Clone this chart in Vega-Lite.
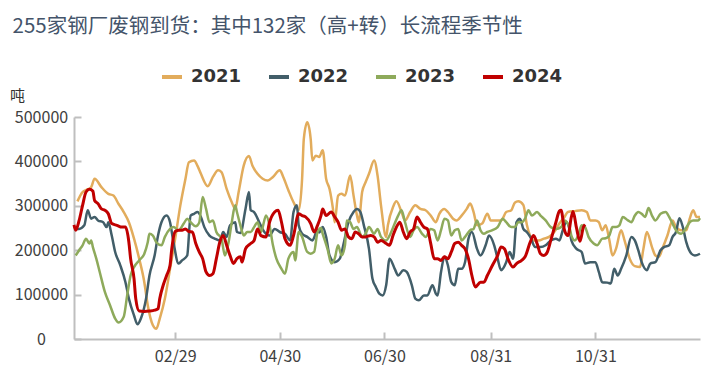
{
  "$schema": "https://vega.github.io/schema/vega-lite/v6.json",
  "width": 626,
  "height": 222,
  "autosize": {"type": "none"},
  "padding": {"left": 74, "top": 117, "right": 8, "bottom": 26},
  "background": "white",
  "config": {"view": {"stroke": null}, "font": "Noto Sans CJK SC"},
  "title": {"text": "255家钢厂废钢到货：其中132家（高+转）长流程季节性", "anchor": "start", "frame": "bounds", "fontSize": 20.5, "fontWeight": "normal", "color": "#44546A", "font": "Noto Sans CJK SC", "offset": 28, "dx": 3},
  "data": {"values": [
{"d":"2024-01-03","s":"2021","v":310000},{"d":"2024-01-06","s":"2021","v":331000},{"d":"2024-01-09","s":"2021","v":337000},{"d":"2024-01-11","s":"2021","v":342000},{"d":"2024-01-13","s":"2021","v":361000},{"d":"2024-01-17","s":"2021","v":342000},{"d":"2024-01-21","s":"2021","v":327000},{"d":"2024-01-24","s":"2021","v":323000},{"d":"2024-01-27","s":"2021","v":304000},{"d":"2024-01-30","s":"2021","v":286000},{"d":"2024-02-02","s":"2021","v":263000},{"d":"2024-02-05","s":"2021","v":226000},{"d":"2024-02-08","s":"2021","v":181000},{"d":"2024-02-11","s":"2021","v":128000},{"d":"2024-02-13","s":"2021","v":76000},{"d":"2024-02-16","s":"2021","v":31000},{"d":"2024-02-18","s":"2021","v":23000},{"d":"2024-02-20","s":"2021","v":46000},{"d":"2024-02-23","s":"2021","v":91000},{"d":"2024-02-26","s":"2021","v":158000},{"d":"2024-02-29","s":"2021","v":226000},{"d":"2024-03-03","s":"2021","v":301000},{"d":"2024-03-06","s":"2021","v":361000},{"d":"2024-03-08","s":"2021","v":398000},{"d":"2024-03-11","s":"2021","v":402000},{"d":"2024-03-13","s":"2021","v":390000},{"d":"2024-03-15","s":"2021","v":372000},{"d":"2024-03-19","s":"2021","v":344000},{"d":"2024-03-22","s":"2021","v":365000},{"d":"2024-03-25","s":"2021","v":380000},{"d":"2024-03-27","s":"2021","v":376000},{"d":"2024-03-30","s":"2021","v":338000},{"d":"2024-04-02","s":"2021","v":308000},{"d":"2024-04-04","s":"2021","v":293000},{"d":"2024-04-06","s":"2021","v":331000},{"d":"2024-04-09","s":"2021","v":391000},{"d":"2024-04-12","s":"2021","v":412000},{"d":"2024-04-14","s":"2021","v":391000},{"d":"2024-04-17","s":"2021","v":372000},{"d":"2024-04-20","s":"2021","v":361000},{"d":"2024-04-23","s":"2021","v":357000},{"d":"2024-04-26","s":"2021","v":365000},{"d":"2024-04-30","s":"2021","v":380000},{"d":"2024-05-02","s":"2021","v":365000},{"d":"2024-05-05","s":"2021","v":335000},{"d":"2024-05-08","s":"2021","v":308000},{"d":"2024-05-11","s":"2021","v":290000},{"d":"2024-05-13","s":"2021","v":361000},{"d":"2024-05-14","s":"2021","v":451000},{"d":"2024-05-16","s":"2021","v":488000},{"d":"2024-05-18","s":"2021","v":451000},{"d":"2024-05-19","s":"2021","v":402000},{"d":"2024-05-21","s":"2021","v":413000},{"d":"2024-05-23","s":"2021","v":410000},{"d":"2024-05-25","s":"2021","v":425000},{"d":"2024-05-27","s":"2021","v":361000},{"d":"2024-05-29","s":"2021","v":338000},{"d":"2024-05-31","s":"2021","v":293000},{"d":"2024-06-01","s":"2021","v":263000},{"d":"2024-06-03","s":"2021","v":323000},{"d":"2024-06-05","s":"2021","v":327000},{"d":"2024-06-07","s":"2021","v":323000},{"d":"2024-06-10","s":"2021","v":368000},{"d":"2024-06-12","s":"2021","v":323000},{"d":"2024-06-14","s":"2021","v":278000},{"d":"2024-06-15","s":"2021","v":263000},{"d":"2024-06-17","s":"2021","v":331000},{"d":"2024-06-19","s":"2021","v":353000},{"d":"2024-06-21","s":"2021","v":372000},{"d":"2024-06-24","s":"2021","v":402000},{"d":"2024-06-26","s":"2021","v":368000},{"d":"2024-06-28","s":"2021","v":301000},{"d":"2024-07-01","s":"2021","v":230000},{"d":"2024-07-02","s":"2021","v":256000},{"d":"2024-07-05","s":"2021","v":297000},{"d":"2024-07-07","s":"2021","v":310000},{"d":"2024-07-10","s":"2021","v":286000},{"d":"2024-07-12","s":"2021","v":267000},{"d":"2024-07-15","s":"2021","v":286000},{"d":"2024-07-18","s":"2021","v":301000},{"d":"2024-07-21","s":"2021","v":293000},{"d":"2024-07-24","s":"2021","v":290000},{"d":"2024-07-27","s":"2021","v":278000},{"d":"2024-07-30","s":"2021","v":263000},{"d":"2024-08-01","s":"2021","v":282000},{"d":"2024-08-04","s":"2021","v":293000},{"d":"2024-08-06","s":"2021","v":286000},{"d":"2024-08-09","s":"2021","v":271000},{"d":"2024-08-11","s":"2021","v":267000},{"d":"2024-08-14","s":"2021","v":278000},{"d":"2024-08-17","s":"2021","v":293000},{"d":"2024-08-19","s":"2021","v":305000},{"d":"2024-08-21","s":"2021","v":286000},{"d":"2024-08-23","s":"2021","v":256000},{"d":"2024-08-26","s":"2021","v":260000},{"d":"2024-08-29","s":"2021","v":282000},{"d":"2024-08-31","s":"2021","v":267000},{"d":"2024-09-03","s":"2021","v":267000},{"d":"2024-09-06","s":"2021","v":267000},{"d":"2024-09-09","s":"2021","v":286000},{"d":"2024-09-12","s":"2021","v":290000},{"d":"2024-09-14","s":"2021","v":307000},{"d":"2024-09-16","s":"2021","v":310000},{"d":"2024-09-19","s":"2021","v":302000},{"d":"2024-09-21","s":"2021","v":258000},{"d":"2024-09-23","s":"2021","v":232000},{"d":"2024-09-25","s":"2021","v":222000},{"d":"2024-09-28","s":"2021","v":222000},{"d":"2024-10-01","s":"2021","v":226000},{"d":"2024-10-04","s":"2021","v":230000},{"d":"2024-10-07","s":"2021","v":241000},{"d":"2024-10-10","s":"2021","v":260000},{"d":"2024-10-13","s":"2021","v":275000},{"d":"2024-10-15","s":"2021","v":286000},{"d":"2024-10-19","s":"2021","v":288000},{"d":"2024-10-23","s":"2021","v":290000},{"d":"2024-10-26","s":"2021","v":286000},{"d":"2024-10-28","s":"2021","v":267000},{"d":"2024-10-31","s":"2021","v":267000},{"d":"2024-11-02","s":"2021","v":263000},{"d":"2024-11-04","s":"2021","v":245000},{"d":"2024-11-06","s":"2021","v":256000},{"d":"2024-11-08","s":"2021","v":226000},{"d":"2024-11-10","s":"2021","v":188000},{"d":"2024-11-12","s":"2021","v":203000},{"d":"2024-11-15","s":"2021","v":245000},{"d":"2024-11-17","s":"2021","v":222000},{"d":"2024-11-20","s":"2021","v":181000},{"d":"2024-11-23","s":"2021","v":164000},{"d":"2024-11-26","s":"2021","v":162000},{"d":"2024-11-28","s":"2021","v":203000},{"d":"2024-11-30","s":"2021","v":241000},{"d":"2024-12-03","s":"2021","v":207000},{"d":"2024-12-05","s":"2021","v":188000},{"d":"2024-12-07","s":"2021","v":185000},{"d":"2024-12-09","s":"2021","v":203000},{"d":"2024-12-12","s":"2021","v":233000},{"d":"2024-12-15","s":"2021","v":267000},{"d":"2024-12-17","s":"2021","v":252000},{"d":"2024-12-20","s":"2021","v":245000},{"d":"2024-12-23","s":"2021","v":245000},{"d":"2024-12-25","s":"2021","v":271000},{"d":"2024-12-27","s":"2021","v":290000},{"d":"2024-12-29","s":"2021","v":275000},{"d":"2024-12-31","s":"2021","v":275000},
{"d":"2024-01-01","s":"2022","v":248000},{"d":"2024-01-04","s":"2022","v":248000},{"d":"2024-01-07","s":"2022","v":256000},{"d":"2024-01-09","s":"2022","v":290000},{"d":"2024-01-11","s":"2022","v":271000},{"d":"2024-01-13","s":"2022","v":275000},{"d":"2024-01-15","s":"2022","v":267000},{"d":"2024-01-18","s":"2022","v":263000},{"d":"2024-01-20","s":"2022","v":252000},{"d":"2024-01-21","s":"2022","v":263000},{"d":"2024-01-23","s":"2022","v":233000},{"d":"2024-01-25","s":"2022","v":196000},{"d":"2024-01-28","s":"2022","v":166000},{"d":"2024-01-31","s":"2022","v":128000},{"d":"2024-02-02","s":"2022","v":91000},{"d":"2024-02-05","s":"2022","v":53000},{"d":"2024-02-07","s":"2022","v":33000},{"d":"2024-02-09","s":"2022","v":46000},{"d":"2024-02-12","s":"2022","v":91000},{"d":"2024-02-14","s":"2022","v":143000},{"d":"2024-02-17","s":"2022","v":188000},{"d":"2024-02-19","s":"2022","v":233000},{"d":"2024-02-21","s":"2022","v":263000},{"d":"2024-02-24","s":"2022","v":278000},{"d":"2024-02-26","s":"2022","v":263000},{"d":"2024-02-28","s":"2022","v":218000},{"d":"2024-03-02","s":"2022","v":170000},{"d":"2024-03-04","s":"2022","v":177000},{"d":"2024-03-07","s":"2022","v":188000},{"d":"2024-03-09","s":"2022","v":278000},{"d":"2024-03-11","s":"2022","v":282000},{"d":"2024-03-13","s":"2022","v":286000},{"d":"2024-03-15","s":"2022","v":275000},{"d":"2024-03-17","s":"2022","v":252000},{"d":"2024-03-20","s":"2022","v":233000},{"d":"2024-03-23","s":"2022","v":226000},{"d":"2024-03-26","s":"2022","v":222000},{"d":"2024-03-28","s":"2022","v":241000},{"d":"2024-03-30","s":"2022","v":230000},{"d":"2024-04-01","s":"2022","v":256000},{"d":"2024-04-04","s":"2022","v":263000},{"d":"2024-04-05","s":"2022","v":241000},{"d":"2024-04-07","s":"2022","v":239000},{"d":"2024-04-10","s":"2022","v":293000},{"d":"2024-04-12","s":"2022","v":331000},{"d":"2024-04-13","s":"2022","v":290000},{"d":"2024-04-15","s":"2022","v":286000},{"d":"2024-04-18","s":"2022","v":263000},{"d":"2024-04-21","s":"2022","v":241000},{"d":"2024-04-24","s":"2022","v":233000},{"d":"2024-04-27","s":"2022","v":248000},{"d":"2024-04-30","s":"2022","v":241000},{"d":"2024-05-03","s":"2022","v":237000},{"d":"2024-05-06","s":"2022","v":222000},{"d":"2024-05-08","s":"2022","v":286000},{"d":"2024-05-10","s":"2022","v":301000},{"d":"2024-05-11","s":"2022","v":256000},{"d":"2024-05-13","s":"2022","v":237000},{"d":"2024-05-16","s":"2022","v":230000},{"d":"2024-05-19","s":"2022","v":222000},{"d":"2024-05-22","s":"2022","v":245000},{"d":"2024-05-23","s":"2022","v":240000},{"d":"2024-05-25","s":"2022","v":252000},{"d":"2024-05-27","s":"2022","v":230000},{"d":"2024-05-29","s":"2022","v":188000},{"d":"2024-06-01","s":"2022","v":173000},{"d":"2024-06-04","s":"2022","v":181000},{"d":"2024-06-06","s":"2022","v":211000},{"d":"2024-06-09","s":"2022","v":263000},{"d":"2024-06-12","s":"2022","v":286000},{"d":"2024-06-14","s":"2022","v":293000},{"d":"2024-06-16","s":"2022","v":286000},{"d":"2024-06-18","s":"2022","v":256000},{"d":"2024-06-21","s":"2022","v":203000},{"d":"2024-06-23","s":"2022","v":136000},{"d":"2024-06-25","s":"2022","v":117000},{"d":"2024-06-27","s":"2022","v":102000},{"d":"2024-06-29","s":"2022","v":98000},{"d":"2024-07-01","s":"2022","v":121000},{"d":"2024-07-03","s":"2022","v":181000},{"d":"2024-07-06","s":"2022","v":158000},{"d":"2024-07-08","s":"2022","v":143000},{"d":"2024-07-11","s":"2022","v":155000},{"d":"2024-07-13","s":"2022","v":151000},{"d":"2024-07-16","s":"2022","v":121000},{"d":"2024-07-18","s":"2022","v":91000},{"d":"2024-07-20","s":"2022","v":87000},{"d":"2024-07-23","s":"2022","v":98000},{"d":"2024-07-25","s":"2022","v":98000},{"d":"2024-07-28","s":"2022","v":121000},{"d":"2024-07-30","s":"2022","v":102000},{"d":"2024-07-31","s":"2022","v":98000},{"d":"2024-08-02","s":"2022","v":151000},{"d":"2024-08-04","s":"2022","v":185000},{"d":"2024-08-06","s":"2022","v":166000},{"d":"2024-08-08","s":"2022","v":128000},{"d":"2024-08-10","s":"2022","v":121000},{"d":"2024-08-12","s":"2022","v":158000},{"d":"2024-08-14","s":"2022","v":158000},{"d":"2024-08-16","s":"2022","v":173000},{"d":"2024-08-18","s":"2022","v":226000},{"d":"2024-08-20","s":"2022","v":241000},{"d":"2024-08-23","s":"2022","v":203000},{"d":"2024-08-25","s":"2022","v":188000},{"d":"2024-08-28","s":"2022","v":211000},{"d":"2024-08-30","s":"2022","v":233000},{"d":"2024-09-02","s":"2022","v":211000},{"d":"2024-09-04","s":"2022","v":181000},{"d":"2024-09-06","s":"2022","v":155000},{"d":"2024-09-09","s":"2022","v":173000},{"d":"2024-09-11","s":"2022","v":196000},{"d":"2024-09-13","s":"2022","v":181000},{"d":"2024-09-15","s":"2022","v":263000},{"d":"2024-09-17","s":"2022","v":271000},{"d":"2024-09-19","s":"2022","v":248000},{"d":"2024-09-21","s":"2022","v":241000},{"d":"2024-09-23","s":"2022","v":230000},{"d":"2024-09-26","s":"2022","v":207000},{"d":"2024-09-29","s":"2022","v":207000},{"d":"2024-10-02","s":"2022","v":211000},{"d":"2024-10-05","s":"2022","v":222000},{"d":"2024-10-08","s":"2022","v":226000},{"d":"2024-10-10","s":"2022","v":222000},{"d":"2024-10-12","s":"2022","v":245000},{"d":"2024-10-14","s":"2022","v":263000},{"d":"2024-10-16","s":"2022","v":245000},{"d":"2024-10-17","s":"2022","v":222000},{"d":"2024-10-20","s":"2022","v":203000},{"d":"2024-10-23","s":"2022","v":196000},{"d":"2024-10-25","s":"2022","v":170000},{"d":"2024-10-28","s":"2022","v":173000},{"d":"2024-10-31","s":"2022","v":173000},{"d":"2024-11-02","s":"2022","v":151000},{"d":"2024-11-04","s":"2022","v":128000},{"d":"2024-11-07","s":"2022","v":127000},{"d":"2024-11-09","s":"2022","v":125000},{"d":"2024-11-11","s":"2022","v":158000},{"d":"2024-11-13","s":"2022","v":143000},{"d":"2024-11-15","s":"2022","v":158000},{"d":"2024-11-18","s":"2022","v":188000},{"d":"2024-11-21","s":"2022","v":230000},{"d":"2024-11-23","s":"2022","v":222000},{"d":"2024-11-25","s":"2022","v":200000},{"d":"2024-11-27","s":"2022","v":173000},{"d":"2024-11-30","s":"2022","v":155000},{"d":"2024-12-02","s":"2022","v":170000},{"d":"2024-12-05","s":"2022","v":173000},{"d":"2024-12-08","s":"2022","v":200000},{"d":"2024-12-10","s":"2022","v":207000},{"d":"2024-12-13","s":"2022","v":211000},{"d":"2024-12-15","s":"2022","v":230000},{"d":"2024-12-17","s":"2022","v":241000},{"d":"2024-12-19","s":"2022","v":272000},{"d":"2024-12-21","s":"2022","v":252000},{"d":"2024-12-23","s":"2022","v":218000},{"d":"2024-12-26","s":"2022","v":192000},{"d":"2024-12-28","s":"2022","v":188000},{"d":"2024-12-31","s":"2022","v":192000},
{"d":"2024-01-02","s":"2023","v":188000},{"d":"2024-01-04","s":"2023","v":200000},{"d":"2024-01-06","s":"2023","v":211000},{"d":"2024-01-08","s":"2023","v":226000},{"d":"2024-01-10","s":"2023","v":215000},{"d":"2024-01-11","s":"2023","v":222000},{"d":"2024-01-12","s":"2023","v":207000},{"d":"2024-01-14","s":"2023","v":181000},{"d":"2024-01-16","s":"2023","v":151000},{"d":"2024-01-19","s":"2023","v":106000},{"d":"2024-01-22","s":"2023","v":76000},{"d":"2024-01-25","s":"2023","v":46000},{"d":"2024-01-27","s":"2023","v":37000},{"d":"2024-01-30","s":"2023","v":50000},{"d":"2024-02-01","s":"2023","v":98000},{"d":"2024-02-03","s":"2023","v":143000},{"d":"2024-02-05","s":"2023","v":162000},{"d":"2024-02-08","s":"2023","v":177000},{"d":"2024-02-11","s":"2023","v":192000},{"d":"2024-02-13","s":"2023","v":218000},{"d":"2024-02-14","s":"2023","v":237000},{"d":"2024-02-16","s":"2023","v":233000},{"d":"2024-02-18","s":"2023","v":218000},{"d":"2024-02-21","s":"2023","v":211000},{"d":"2024-02-23","s":"2023","v":230000},{"d":"2024-02-26","s":"2023","v":248000},{"d":"2024-02-28","s":"2023","v":252000},{"d":"2024-03-02","s":"2023","v":245000},{"d":"2024-03-05","s":"2023","v":260000},{"d":"2024-03-07","s":"2023","v":271000},{"d":"2024-03-09","s":"2023","v":263000},{"d":"2024-03-12","s":"2023","v":254000},{"d":"2024-03-14","s":"2023","v":262000},{"d":"2024-03-16","s":"2023","v":320000},{"d":"2024-03-18","s":"2023","v":293000},{"d":"2024-03-20","s":"2023","v":263000},{"d":"2024-03-22","s":"2023","v":267000},{"d":"2024-03-24","s":"2023","v":241000},{"d":"2024-03-27","s":"2023","v":226000},{"d":"2024-03-29","s":"2023","v":188000},{"d":"2024-03-31","s":"2023","v":215000},{"d":"2024-04-02","s":"2023","v":263000},{"d":"2024-04-04","s":"2023","v":301000},{"d":"2024-04-05","s":"2023","v":286000},{"d":"2024-04-07","s":"2023","v":256000},{"d":"2024-04-09","s":"2023","v":233000},{"d":"2024-04-11","s":"2023","v":241000},{"d":"2024-04-13","s":"2023","v":241000},{"d":"2024-04-15","s":"2023","v":252000},{"d":"2024-04-17","s":"2023","v":263000},{"d":"2024-04-19","s":"2023","v":241000},{"d":"2024-04-22","s":"2023","v":278000},{"d":"2024-04-24","s":"2023","v":256000},{"d":"2024-04-26","s":"2023","v":211000},{"d":"2024-04-28","s":"2023","v":181000},{"d":"2024-05-01","s":"2023","v":158000},{"d":"2024-05-03","s":"2023","v":147000},{"d":"2024-05-05","s":"2023","v":181000},{"d":"2024-05-08","s":"2023","v":196000},{"d":"2024-05-09","s":"2023","v":177000},{"d":"2024-05-11","s":"2023","v":241000},{"d":"2024-05-13","s":"2023","v":230000},{"d":"2024-05-16","s":"2023","v":196000},{"d":"2024-05-18","s":"2023","v":192000},{"d":"2024-05-20","s":"2023","v":196000},{"d":"2024-05-22","s":"2023","v":241000},{"d":"2024-05-24","s":"2023","v":250000},{"d":"2024-05-25","s":"2023","v":237000},{"d":"2024-05-28","s":"2023","v":200000},{"d":"2024-05-30","s":"2023","v":170000},{"d":"2024-06-01","s":"2023","v":181000},{"d":"2024-06-03","s":"2023","v":211000},{"d":"2024-06-05","s":"2023","v":188000},{"d":"2024-06-07","s":"2023","v":211000},{"d":"2024-06-08","s":"2023","v":267000},{"d":"2024-06-10","s":"2023","v":263000},{"d":"2024-06-12","s":"2023","v":248000},{"d":"2024-06-14","s":"2023","v":252000},{"d":"2024-06-17","s":"2023","v":230000},{"d":"2024-06-19","s":"2023","v":237000},{"d":"2024-06-21","s":"2023","v":252000},{"d":"2024-06-24","s":"2023","v":237000},{"d":"2024-06-26","s":"2023","v":248000},{"d":"2024-06-28","s":"2023","v":230000},{"d":"2024-07-01","s":"2023","v":222000},{"d":"2024-07-03","s":"2023","v":233000},{"d":"2024-07-06","s":"2023","v":260000},{"d":"2024-07-08","s":"2023","v":278000},{"d":"2024-07-10","s":"2023","v":290000},{"d":"2024-07-12","s":"2023","v":263000},{"d":"2024-07-15","s":"2023","v":230000},{"d":"2024-07-17","s":"2023","v":245000},{"d":"2024-07-19","s":"2023","v":252000},{"d":"2024-07-22","s":"2023","v":237000},{"d":"2024-07-24","s":"2023","v":230000},{"d":"2024-07-27","s":"2023","v":248000},{"d":"2024-07-29","s":"2023","v":245000},{"d":"2024-07-31","s":"2023","v":222000},{"d":"2024-08-02","s":"2023","v":245000},{"d":"2024-08-04","s":"2023","v":271000},{"d":"2024-08-06","s":"2023","v":267000},{"d":"2024-08-08","s":"2023","v":233000},{"d":"2024-08-10","s":"2023","v":245000},{"d":"2024-08-12","s":"2023","v":248000},{"d":"2024-08-14","s":"2023","v":222000},{"d":"2024-08-16","s":"2023","v":230000},{"d":"2024-08-19","s":"2023","v":245000},{"d":"2024-08-21","s":"2023","v":248000},{"d":"2024-08-23","s":"2023","v":267000},{"d":"2024-08-25","s":"2023","v":245000},{"d":"2024-08-27","s":"2023","v":237000},{"d":"2024-08-29","s":"2023","v":241000},{"d":"2024-09-01","s":"2023","v":245000},{"d":"2024-09-04","s":"2023","v":252000},{"d":"2024-09-07","s":"2023","v":271000},{"d":"2024-09-09","s":"2023","v":263000},{"d":"2024-09-12","s":"2023","v":252000},{"d":"2024-09-14","s":"2023","v":252000},{"d":"2024-09-16","s":"2023","v":263000},{"d":"2024-09-18","s":"2023","v":263000},{"d":"2024-09-20","s":"2023","v":271000},{"d":"2024-09-22","s":"2023","v":290000},{"d":"2024-09-24","s":"2023","v":278000},{"d":"2024-09-27","s":"2023","v":286000},{"d":"2024-09-29","s":"2023","v":278000},{"d":"2024-10-02","s":"2023","v":267000},{"d":"2024-10-05","s":"2023","v":252000},{"d":"2024-10-08","s":"2023","v":248000},{"d":"2024-10-11","s":"2023","v":252000},{"d":"2024-10-13","s":"2023","v":267000},{"d":"2024-10-16","s":"2023","v":250000},{"d":"2024-10-17","s":"2023","v":233000},{"d":"2024-10-19","s":"2023","v":222000},{"d":"2024-10-21","s":"2023","v":233000},{"d":"2024-10-23","s":"2023","v":256000},{"d":"2024-10-25","s":"2023","v":252000},{"d":"2024-10-27","s":"2023","v":230000},{"d":"2024-10-30","s":"2023","v":215000},{"d":"2024-11-01","s":"2023","v":211000},{"d":"2024-11-04","s":"2023","v":226000},{"d":"2024-11-06","s":"2023","v":227000},{"d":"2024-11-08","s":"2023","v":232000},{"d":"2024-11-10","s":"2023","v":252000},{"d":"2024-11-12","s":"2023","v":252000},{"d":"2024-11-14","s":"2023","v":256000},{"d":"2024-11-16","s":"2023","v":275000},{"d":"2024-11-19","s":"2023","v":267000},{"d":"2024-11-21","s":"2023","v":263000},{"d":"2024-11-23","s":"2023","v":278000},{"d":"2024-11-25","s":"2023","v":286000},{"d":"2024-11-27","s":"2023","v":282000},{"d":"2024-11-29","s":"2023","v":275000},{"d":"2024-12-01","s":"2023","v":295000},{"d":"2024-12-03","s":"2023","v":278000},{"d":"2024-12-05","s":"2023","v":267000},{"d":"2024-12-08","s":"2023","v":282000},{"d":"2024-12-11","s":"2023","v":286000},{"d":"2024-12-13","s":"2023","v":275000},{"d":"2024-12-15","s":"2023","v":260000},{"d":"2024-12-17","s":"2023","v":245000},{"d":"2024-12-20","s":"2023","v":237000},{"d":"2024-12-22","s":"2023","v":245000},{"d":"2024-12-25","s":"2023","v":263000},{"d":"2024-12-27","s":"2023","v":267000},{"d":"2024-12-30","s":"2023","v":267000},{"d":"2024-12-31","s":"2023","v":272000},
{"d":"2024-01-01","s":"2024","v":257000},{"d":"2024-01-02","s":"2024","v":245000},{"d":"2024-01-04","s":"2024","v":267000},{"d":"2024-01-06","s":"2024","v":301000},{"d":"2024-01-08","s":"2024","v":331000},{"d":"2024-01-10","s":"2024","v":337000},{"d":"2024-01-12","s":"2024","v":333000},{"d":"2024-01-13","s":"2024","v":312000},{"d":"2024-01-15","s":"2024","v":305000},{"d":"2024-01-17","s":"2024","v":293000},{"d":"2024-01-19","s":"2024","v":290000},{"d":"2024-01-21","s":"2024","v":282000},{"d":"2024-01-23","s":"2024","v":260000},{"d":"2024-01-26","s":"2024","v":256000},{"d":"2024-01-29","s":"2024","v":252000},{"d":"2024-01-31","s":"2024","v":252000},{"d":"2024-02-02","s":"2024","v":218000},{"d":"2024-02-03","s":"2024","v":181000},{"d":"2024-02-05","s":"2024","v":136000},{"d":"2024-02-06","s":"2024","v":91000},{"d":"2024-02-08","s":"2024","v":63000},{"d":"2024-02-11","s":"2024","v":62000},{"d":"2024-02-14","s":"2024","v":63000},{"d":"2024-02-17","s":"2024","v":65000},{"d":"2024-02-19","s":"2024","v":68000},{"d":"2024-02-20","s":"2024","v":91000},{"d":"2024-02-22","s":"2024","v":121000},{"d":"2024-02-24","s":"2024","v":143000},{"d":"2024-02-26","s":"2024","v":166000},{"d":"2024-02-27","s":"2024","v":203000},{"d":"2024-02-29","s":"2024","v":242000},{"d":"2024-03-02","s":"2024","v":245000},{"d":"2024-03-04","s":"2024","v":245000},{"d":"2024-03-06","s":"2024","v":248000},{"d":"2024-03-08","s":"2024","v":242000},{"d":"2024-03-10","s":"2024","v":241000},{"d":"2024-03-12","s":"2024","v":215000},{"d":"2024-03-14","s":"2024","v":196000},{"d":"2024-03-16","s":"2024","v":181000},{"d":"2024-03-18","s":"2024","v":151000},{"d":"2024-03-20","s":"2024","v":143000},{"d":"2024-03-22","s":"2024","v":147000},{"d":"2024-03-24","s":"2024","v":181000},{"d":"2024-03-26","s":"2024","v":218000},{"d":"2024-03-28","s":"2024","v":233000},{"d":"2024-03-30","s":"2024","v":211000},{"d":"2024-04-01","s":"2024","v":188000},{"d":"2024-04-03","s":"2024","v":170000},{"d":"2024-04-05","s":"2024","v":181000},{"d":"2024-04-07","s":"2024","v":185000},{"d":"2024-04-08","s":"2024","v":173000},{"d":"2024-04-10","s":"2024","v":203000},{"d":"2024-04-13","s":"2024","v":215000},{"d":"2024-04-15","s":"2024","v":222000},{"d":"2024-04-17","s":"2024","v":248000},{"d":"2024-04-19","s":"2024","v":233000},{"d":"2024-04-22","s":"2024","v":230000},{"d":"2024-04-24","s":"2024","v":263000},{"d":"2024-04-27","s":"2024","v":286000},{"d":"2024-04-29","s":"2024","v":290000},{"d":"2024-05-01","s":"2024","v":263000},{"d":"2024-05-03","s":"2024","v":226000},{"d":"2024-05-06","s":"2024","v":211000},{"d":"2024-05-08","s":"2024","v":233000},{"d":"2024-05-11","s":"2024","v":282000},{"d":"2024-05-13","s":"2024","v":278000},{"d":"2024-05-15","s":"2024","v":275000},{"d":"2024-05-18","s":"2024","v":260000},{"d":"2024-05-20","s":"2024","v":241000},{"d":"2024-05-22","s":"2024","v":256000},{"d":"2024-05-24","s":"2024","v":278000},{"d":"2024-05-25","s":"2024","v":293000},{"d":"2024-05-27","s":"2024","v":278000},{"d":"2024-05-30","s":"2024","v":286000},{"d":"2024-06-01","s":"2024","v":275000},{"d":"2024-06-03","s":"2024","v":263000},{"d":"2024-06-05","s":"2024","v":245000},{"d":"2024-06-07","s":"2024","v":248000},{"d":"2024-06-09","s":"2024","v":230000},{"d":"2024-06-11","s":"2024","v":226000},{"d":"2024-06-13","s":"2024","v":241000},{"d":"2024-06-15","s":"2024","v":237000},{"d":"2024-06-17","s":"2024","v":230000},{"d":"2024-06-19","s":"2024","v":230000},{"d":"2024-06-22","s":"2024","v":233000},{"d":"2024-06-24","s":"2024","v":230000},{"d":"2024-06-26","s":"2024","v":218000},{"d":"2024-06-28","s":"2024","v":222000},{"d":"2024-07-01","s":"2024","v":215000},{"d":"2024-07-03","s":"2024","v":211000},{"d":"2024-07-05","s":"2024","v":233000},{"d":"2024-07-07","s":"2024","v":252000},{"d":"2024-07-09","s":"2024","v":263000},{"d":"2024-07-11","s":"2024","v":241000},{"d":"2024-07-13","s":"2024","v":226000},{"d":"2024-07-15","s":"2024","v":241000},{"d":"2024-07-17","s":"2024","v":248000},{"d":"2024-07-19","s":"2024","v":275000},{"d":"2024-07-21","s":"2024","v":263000},{"d":"2024-07-23","s":"2024","v":252000},{"d":"2024-07-25","s":"2024","v":248000},{"d":"2024-07-27","s":"2024","v":215000},{"d":"2024-07-29","s":"2024","v":181000},{"d":"2024-07-31","s":"2024","v":181000},{"d":"2024-08-02","s":"2024","v":177000},{"d":"2024-08-04","s":"2024","v":185000},{"d":"2024-08-06","s":"2024","v":181000},{"d":"2024-08-08","s":"2024","v":196000},{"d":"2024-08-10","s":"2024","v":215000},{"d":"2024-08-12","s":"2024","v":218000},{"d":"2024-08-14","s":"2024","v":211000},{"d":"2024-08-16","s":"2024","v":203000},{"d":"2024-08-18","s":"2024","v":181000},{"d":"2024-08-20","s":"2024","v":143000},{"d":"2024-08-22","s":"2024","v":117000},{"d":"2024-08-25","s":"2024","v":128000},{"d":"2024-08-27","s":"2024","v":128000},{"d":"2024-08-29","s":"2024","v":143000},{"d":"2024-09-01","s":"2024","v":166000},{"d":"2024-09-04","s":"2024","v":188000},{"d":"2024-09-06","s":"2024","v":207000},{"d":"2024-09-08","s":"2024","v":203000},{"d":"2024-09-10","s":"2024","v":181000},{"d":"2024-09-13","s":"2024","v":162000},{"d":"2024-09-15","s":"2024","v":170000},{"d":"2024-09-18","s":"2024","v":177000},{"d":"2024-09-20","s":"2024","v":185000},{"d":"2024-09-23","s":"2024","v":218000},{"d":"2024-09-25","s":"2024","v":233000},{"d":"2024-09-27","s":"2024","v":215000},{"d":"2024-09-29","s":"2024","v":192000},{"d":"2024-10-01","s":"2024","v":188000},{"d":"2024-10-03","s":"2024","v":196000},{"d":"2024-10-05","s":"2024","v":222000},{"d":"2024-10-08","s":"2024","v":263000},{"d":"2024-10-10","s":"2024","v":288000},{"d":"2024-10-11","s":"2024","v":290000},{"d":"2024-10-13","s":"2024","v":245000},{"d":"2024-10-15","s":"2024","v":233000},{"d":"2024-10-17","s":"2024","v":275000},{"d":"2024-10-18","s":"2024","v":287000},{"d":"2024-10-20","s":"2024","v":250000},{"d":"2024-10-22","s":"2024","v":220000},{"d":"2024-10-24","s":"2024","v":252000},{"d":"2024-10-25","s":"2024","v":258000}
  ]},
  "mark": {"type": "line", "interpolate": "monotone"},
  "encoding": {
    "x": {"field": "d", "type": "temporal",
      "scale": {"type": "utc", "domain": [{"year": 2024, "month": 1, "date": 1, "utc": true}, {"year": 2024, "month": 12, "date": 31, "utc": true}]},
      "axis": {"title": null, "grid": false, "format": "%m/%d",
        "values": [{"year": 2024, "month": 2, "date": 29, "utc": true}, {"year": 2024, "month": 4, "date": 30, "utc": true}, {"year": 2024, "month": 6, "date": 30, "utc": true}, {"year": 2024, "month": 8, "date": 31, "utc": true}, {"year": 2024, "month": 10, "date": 31, "utc": true}],
        "domainColor": "#BFBFBF", "domainWidth": 2, "tickColor": "#BFBFBF", "tickWidth": 2, "tickSize": -7, "labelPadding": 16,
        "labelFontSize": 16, "labelColor": "#404040", "labelFont": "Noto Sans CJK SC"}},
    "y": {"field": "v", "type": "quantitative",
      "scale": {"domain": [0, 500000], "nice": false},
      "axis": {"title": "吨", "titleAngle": 0, "titleX": -57, "titleY": -22, "titleAlign": "center", "titleBaseline": "middle", "titleFontSize": 15, "titleFontWeight": "normal", "titleColor": "#333333", "titleFont": "Noto Sans CJK SC",
        "values": [0, 100000, 200000, 300000, 400000, 500000], "format": "d", "grid": false,
        "domainColor": "#BFBFBF", "domainWidth": 2, "tickColor": "#BFBFBF", "tickWidth": 2, "tickSize": -7, "labelPadding": 40, "labelAlign": "center",
        "labelFontSize": 16, "labelColor": "#404040", "labelFont": "Noto Sans CJK SC"}},
    "color": {"field": "s", "type": "nominal",
      "scale": {"domain": ["2021", "2022", "2023", "2024"], "range": ["#E2AC5C", "#425E69", "#8EAA5B", "#C00000"]},
      "legend": {"title": null, "orient": "none", "legendX": 86, "legendY": -52, "direction": "horizontal", "columns": 4,
        "symbolType": "stroke", "symbolSize": 400, "symbolStrokeWidth": 4, "labelFontSize": 18, "labelFontWeight": "bold", "labelColor": "#333333", "labelFont": "DejaVu Sans", "labelOffset": 7, "columnPadding": 19}},
    "strokeWidth": {"condition": {"test": "datum.s === '2024'", "value": 3}, "value": 2.5}
  }
}
